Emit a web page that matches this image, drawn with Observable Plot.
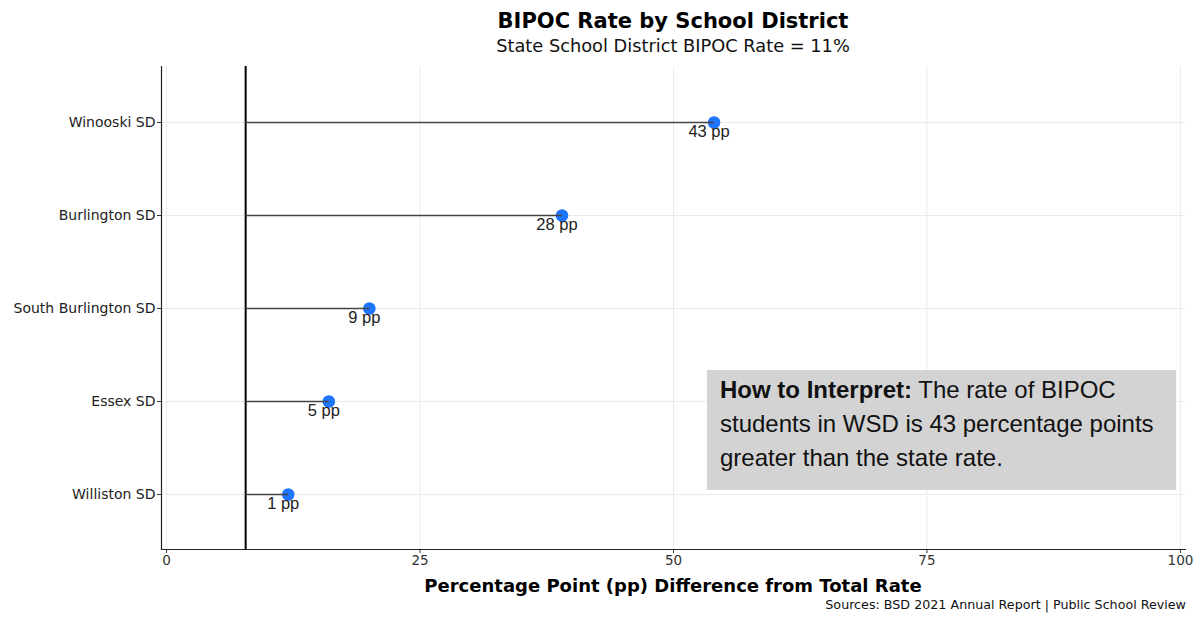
<!DOCTYPE html>
<html>
<head>
<meta charset="utf-8">
<script src="https://cdn.jsdelivr.net/npm/d3@7"></script>
<script src="https://cdn.jsdelivr.net/npm/@observablehq/plot@0.6"></script>
<style>
  html, body { margin: 0; padding: 0; background: #fff; }
  #wrap { position: relative; width: 1201px; height: 618px; overflow: hidden; font-family: "DejaVu Sans", sans-serif; color: #000; }
  #title { position: absolute; left: 161px; width: 1024px; top: 8px; text-align: center; font-weight: bold; font-size: 21px; line-height: 26px; }
  #subtitle { position: absolute; left: 161px; width: 1024px; top: 36px; text-align: center; font-size: 17.8px; line-height: 20px; color: #111; }
  #chart { position: absolute; left: 0; top: 62px; }
  #xlabel { position: absolute; left: 161px; width: 1024px; top: 575px; text-align: center; font-weight: bold; font-size: 18px; line-height: 22px; }
  #caption { position: absolute; right: 15px; top: 597px; font-size: 12.7px; line-height: 16px; color: #111; }
  #note { position: absolute; left: 707px; top: 370px; width: 469px; height: 120px; box-sizing: border-box; background: #d3d3d3;
          padding: 3px 8px 0 13px; font-family: "Liberation Sans", Arial, sans-serif; font-size: 24px; line-height: 34px; color: #111; }
  #note div { white-space: nowrap; }
</style>
</head>
<body>
<div id="wrap">
  <div id="title">BIPOC Rate by School District</div>
  <div id="subtitle">State School District BIPOC Rate = 11%</div>
  <div id="chart"></div>
  <div id="xlabel">Percentage Point (pp) Difference from Total Rate</div>
  <div id="caption">Sources: BSD 2021 Annual Report | Public School Review</div>
  <div id="note">
    <div><b>How to Interpret:</b><span> The rate of BIPOC</span></div>
    <div>students in WSD is 43 percentage points</div>
    <div>greater than the state rate.</div>
  </div>
</div>
<script>
// ---- data ----
const districts = ["Winooski SD", "Burlington SD", "South Burlington SD", "Essex SD", "Williston SD"];
const districtRates = [54, 39, 20, 16, 12];      // plotted position of each district
const ppDiffs = [43, 28, 9, 5, 1];                // label: pp difference from state rate
const referenceLine = 7.8;                         // vertical reference line as drawn
const xTicks = [0, 25, 50, 75, 100];

const rows = districts.map((d, i) => ({district: d, rate: districtRates[i], diff: ppDiffs[i]}));

const chart = Plot.plot({
  width: 1201,
  height: 507,
  marginTop: 4,
  marginBottom: 20,
  marginLeft: 161,
  marginRight: 16,
  style: {fontFamily: "DejaVu Sans, sans-serif", background: "#fff", color: "#333"},
  x: {domain: [-0.5, 100.5]},
  y: {type: "point", domain: districts, padding: 0.58},
  marks: [
    Plot.gridX(xTicks, {stroke: "#ebebeb", strokeOpacity: 1, strokeWidth: 1}),
    Plot.gridY(districts, {stroke: "#ebebeb", strokeOpacity: 1, strokeWidth: 1}),
    Plot.axisX(xTicks, {tickSize: 4, tickPadding: 2, fontSize: 13.5, label: null, color: "#333", stroke: "#333"}),
    Plot.axisY(districts, {tickSize: 4, tickPadding: 2, fontSize: 14, label: null, color: "#222", stroke: "#333"}),
    Plot.frame({anchor: "left", stroke: "#222", strokeWidth: 1.2}),
    Plot.frame({anchor: "bottom", stroke: "#222", strokeWidth: 1.2}),
    Plot.ruleX([referenceLine], {stroke: "#000", strokeWidth: 2}),
    Plot.dot(rows, {x: "rate", y: "district", r: 6.3, fill: "#1f75fe", stroke: "none"}),
    Plot.link(rows, {x1: () => referenceLine, x2: "rate", y1: "district", y2: "district", stroke: "#444", strokeWidth: 1.3}),
    Plot.text(rows, {x: "rate", y: "district", text: d => `${d.diff} pp`, dy: 9, dx: -5, fontSize: 16.5,
                     fontFamily: "Liberation Sans, Arial, sans-serif", fill: "#222"})
  ]
});
document.getElementById("chart").appendChild(chart);
</script>
</body>
</html>
